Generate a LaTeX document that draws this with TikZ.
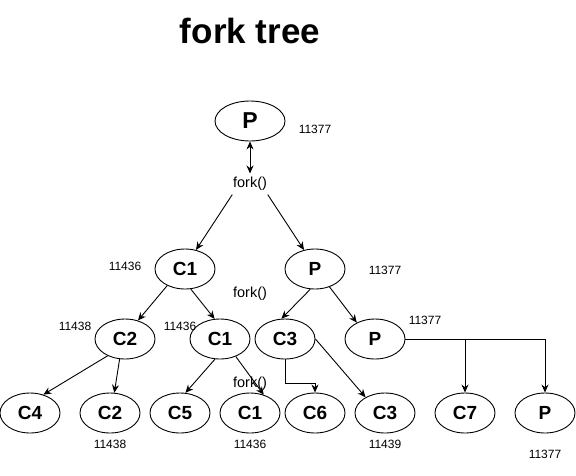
\documentclass[tikz,border=0pt]{standalone}
\usepackage{fontspec}
\setmainfont{Liberation Sans}
\usetikzlibrary{shapes.geometric,arrows.meta}

\begin{document}
\begin{tikzpicture}[x=1pt,y=-1pt,line width=0.9pt]
		\tikzset{
			proc/.style={
				draw, ellipse, inner sep=0pt, minimum width=60pt, minimum height=40pt,
				font=\fontsize{19}{21}\selectfont\bfseries
			},
			rootproc/.style={
				proc, minimum width=70pt, font=\fontsize{23}{25}\selectfont\bfseries
			},
			pid/.style={font=\fontsize{12}{14}\selectfont},
			call/.style={font=\fontsize{14.5}{16}\selectfont},
			arr/.style={-{Stealth[length=8pt,width=7pt]}}
		}
		\useasboundingbox (0,0) rectangle (576,475);
		
		\node [font=\fontsize{35}{38}\selectfont\bfseries] (title) at (250,31) {fork tree};
		
		% first fork
		\node [rootproc] (p0) at (250,121) {P};
		\node [pid] (pid0) at (315,129) {11377};
		\node [call] (f1) at (250,184) {fork()};
		\draw [{Stealth[length=8pt,width=7pt]}-{Stealth[length=8pt,width=7pt]}] (p0) -- (f1);
		
		% second fork
		\node [proc] (c1) at (185,269) {C1};
		\node [proc] (p1) at (315,269) {P};
		\node [pid] (pid1) at (125,266) {11436};
		\node [pid] (pid2) at (385,270) {11377};
		\node [call] (f2) at (250,294) {fork()};
		\draw [arr] ([xshift=3pt]f1.south west) -- (c1.60);
		\draw [arr] ([xshift=-3pt]f1.south east) -- (p1.120);
		
		% third fork
		\node [proc] (c2) at (125,339) {C2};
		\node [proc] (c1b) at (220,339) {C1};
		\node [proc] (c3) at (285,339) {C3};
		\node [proc] (p2) at (375,339) {P};
		\node [pid] (pid3) at (75,326) {11438};
		\node [pid] (pid4) at (180,326) {11436};
		\node [pid] (pid5) at (425,320) {11377};
		\node [call] (f3) at (250,384) {fork()};
		\draw [arr] (c1.223) -- (c2.55);
		\draw [arr] (c1.286) -- (c1b.105);
		\draw [arr] (p1.257) -- (c3.100);
		\draw [arr] (p1.309) -- (p2.138);
		
		% leaves
		\foreach \n/\t/\x in {c4/C4/30, c2c/C2/110, c5/C5/180, c1c/C1/250, c6/C6/315, c3c/C3/385, c7/C7/465, p3/P/545}{
			\node [proc] (\n) at (\x,413) {\t};
		}
		\node [pid] (pid6) at (110,444) {11438};
		\node [pid] (pid7) at (250,444) {11436};
		\node [pid] (pid8) at (385,444) {11439};
		\node [pid] (pid9) at (545,454) {11377};
		
		\draw [arr] (c2.224) -- (c4.54);
		\draw [arr] (c2.255) -- (c2c.78);
		\draw [arr] (c1b.256) -- (c5.75);
		\draw [arr] (c1b.312) -- (c1c.53);
		\draw [arr] (c3.south) -- ++(0,24) -| (c6.north);
		\draw [arr] (c3.east) -- (c3c.141);
		\draw [arr] (p2.east) -| (c7.north);
		\draw [arr] (p2.east) -| (p3.north);
\end{tikzpicture}
\end{document}
